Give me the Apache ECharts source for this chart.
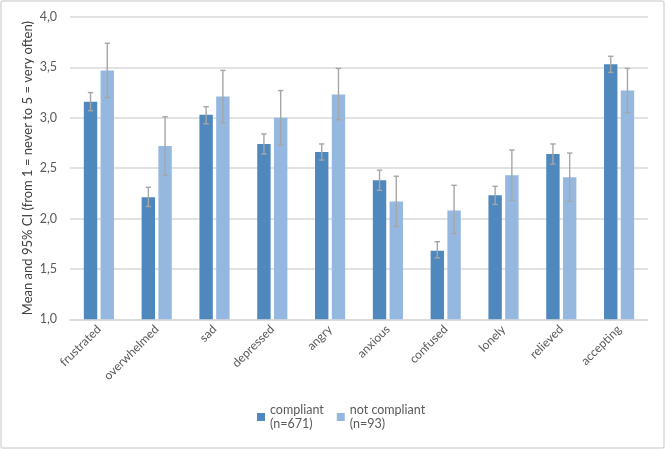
<!DOCTYPE html>
<html><head><meta charset="utf-8">
<script src="https://cdn.jsdelivr.net/npm/echarts@6/dist/echarts.min.js"></script>
<style>html,body{margin:0;padding:0;background:#fff}#c{width:666px;height:450px}</style>
</head><body><div id="c"></div>
<script>
var categories = ['frustrated','overwhelmed','sad','depressed','angry','anxious','confused','lonely','relieved','accepting'];
var compliantMean = [3.16, 2.21, 3.03, 2.74, 2.66, 2.38, 1.68, 2.23, 2.64, 3.53];
var compliantLow  = [3.07, 2.12, 2.94, 2.64, 2.58, 2.28, 1.61, 2.14, 2.54, 3.45];
var compliantHigh = [3.25, 2.31, 3.11, 2.84, 2.74, 2.48, 1.77, 2.32, 2.74, 3.61];
var notMean = [3.47, 2.72, 3.21, 3.00, 3.23, 2.17, 2.08, 2.43, 2.41, 3.27];
var notLow  = [3.20, 2.43, 2.95, 2.73, 2.98, 1.92, 1.85, 2.18, 2.17, 3.05];
var notHigh = [3.74, 3.01, 3.47, 3.27, 3.49, 2.42, 2.33, 2.68, 2.65, 3.49];
var seriesNames = ['compliant', 'not compliant'];
var seriesNotes = ['(n=671)', '(n=93)'];
var yTicks = ['1,0','1,5','2,0','2,5','3,0','3,5','4,0'];

var BAR_W = 13.4, GAP = 3.35;
function errData(lo, hi){ return categories.map(function(c,i){ return [i, lo[i], hi[i]]; }); }
function errSeries(lo, hi, off){
  return {
    type:'custom', z:5, silent:true,
    data: errData(lo, hi),
    encode:{x:0, y:[1,2]},
    renderItem:function(params, api){
      var a = api.coord([api.value(0), api.value(1)]);
      var b = api.coord([api.value(0), api.value(2)]);
      var x = a[0] + off, cw = 2.7;
      var st = {stroke:'#a6a6a6', lineWidth:1.4};
      return {type:'group', children:[
        {type:'line', shape:{x1:x, y1:a[1], x2:x, y2:b[1]}, style:st},
        {type:'line', shape:{x1:x-cw, y1:a[1], x2:x+cw, y2:a[1]}, style:st},
        {type:'line', shape:{x1:x-cw, y1:b[1], x2:x+cw, y2:b[1]}, style:st}
      ]};
    }
  };
}
var off = (BAR_W + GAP) / 2;
var font = 'Lato, "Liberation Sans", sans-serif';
var chart = echarts.init(document.getElementById('c'), null, {renderer:'canvas'});
chart.setOption({
  animation:false,
  backgroundColor:'#fff',
  graphic:[{type:'rect', shape:{x:1, y:1, width:663, height:447, r:2}, style:{fill:null, stroke:'#d9d9d9', lineWidth:1.5}, silent:true}],
  grid:{left:70, right:18, top:17, bottom:130.7},
  legend:{
    data:seriesNames, bottom:7, left:252,
    itemWidth:8, itemHeight:8, itemGap:13,
    icon:'rect',
    formatter:function(n){ return n + '\n' + seriesNotes[seriesNames.indexOf(n)]; },
    textStyle:{color:'#595959', fontSize:12.5, fontFamily:font, lineHeight:14, padding:[14,0,0,0]}
  },
  xAxis:{
    type:'category', data:categories,
    axisLine:{lineStyle:{color:'#d9d9d9', width:1.5}},
    axisTick:{show:false},
    axisLabel:{rotate:45, color:'#595959', fontSize:12, fontFamily:font, interval:0, margin:8}
  },
  yAxis:{
    type:'value', min:1, max:4, interval:0.5,
    name:'Mean and 95% CI (from 1 = never to 5 = very often)',
    nameLocation:'middle', nameGap:36, nameMoveOverlap:false,
    nameTextStyle:{color:'#404040', fontSize:13, fontFamily:font},
    axisLine:{show:false}, axisTick:{show:false},
    splitLine:{lineStyle:{color:'#d9d9d9', width:1.5}},
    axisLabel:{color:'#595959', fontSize:12.5, fontFamily:font, margin:13,
      formatter:function(v){ return yTicks[Math.round((v-1)/0.5)]; }}
  },
  series:[
    {name:seriesNames[0], type:'bar', data:compliantMean, barWidth:BAR_W, barGap:'25%', itemStyle:{color:'#4f88bd'}},
    {name:seriesNames[1], type:'bar', data:notMean, barWidth:BAR_W, barGap:'25%', itemStyle:{color:'#95b8e0'}},
    errSeries(compliantLow, compliantHigh, -off),
    errSeries(notLow, notHigh, off)
  ]
});
</script></body></html>
